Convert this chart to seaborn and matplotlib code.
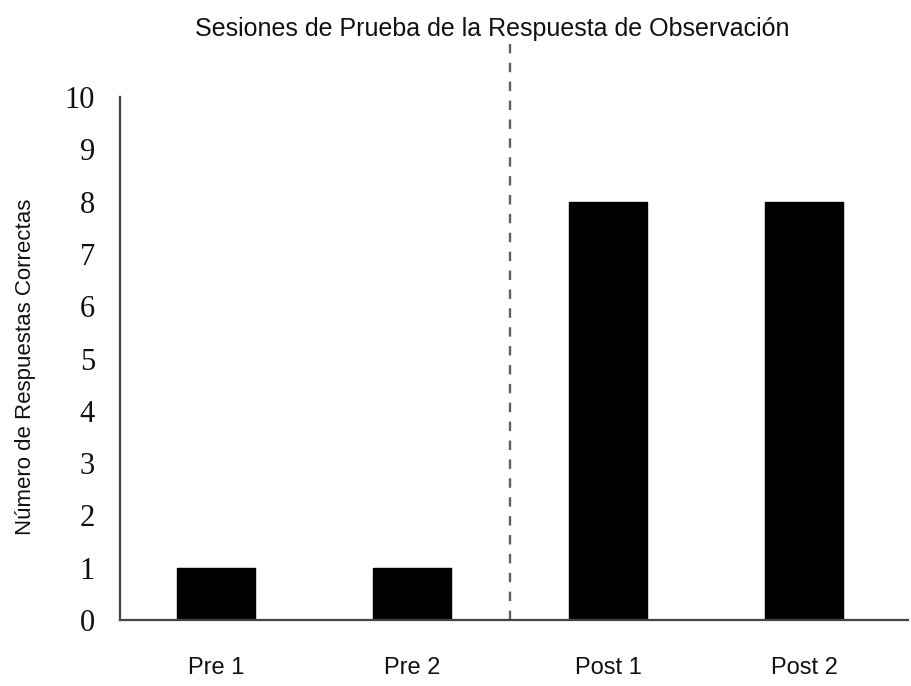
import pandas as pd
import seaborn as sns
import matplotlib.pyplot as plt

# valores
sesiones = ['Pre 1', 'Pre 2', 'Post 1', 'Post 2']
respuestas = [1, 1, 8, 8]
yticks = list(range(0, 11))

data = pd.DataFrame({'Sesion': sesiones, 'Respuestas': respuestas})

sns.set_theme(style='white')
plt.rcParams['font.family'] = ['Liberation Sans', 'DejaVu Sans']
plt.rcParams['text.color'] = '#111111'
plt.rcParams['axes.labelcolor'] = '#111111'
plt.rcParams['xtick.color'] = '#111111'
plt.rcParams['ytick.color'] = '#111111'

fig = plt.figure(figsize=(9.11, 6.86), dpi=100)
ax = fig.add_axes([120 / 911, 66 / 686, 788 / 911, 523 / 686])

sns.barplot(data=data, x='Sesion', y='Respuestas', color='black',
            width=0.4, edgecolor='black', saturation=1, ax=ax)

# linea de cambio de fase entre Pre 2 y Post 1
ax.axvline(1.5, ymin=0, ymax=1.109, clip_on=False, color='#606060',
           linewidth=1.7, linestyle=(0, (4, 4)))

ax.set_xlim(-0.49, 3.53)
ax.set_ylim(0, 10)
ax.set_yticks(yticks)
ax.set_yticklabels([str(t) for t in yticks], family='Liberation Serif', fontsize=22)
ax.tick_params(axis='y', length=0, pad=18)
ax.tick_params(axis='x', length=0, pad=27, labelsize=17)

ax.set_xlabel('')
ax.set_ylabel('Número de Respuestas Correctas', fontsize=16)
ax.yaxis.set_label_coords(-0.106, 0.484)

for side in ['top', 'right']:
    ax.spines[side].set_visible(False)
for side in ['left', 'bottom']:
    ax.spines[side].set_color('#444444')
    ax.spines[side].set_linewidth(1.6)

fig.text(492 / 911, 1 - 29 / 686, 'Sesiones de Prueba de la Respuesta de Observación',
         ha='center', va='center', fontsize=18)

plt.savefig('out.png', dpi=100)
